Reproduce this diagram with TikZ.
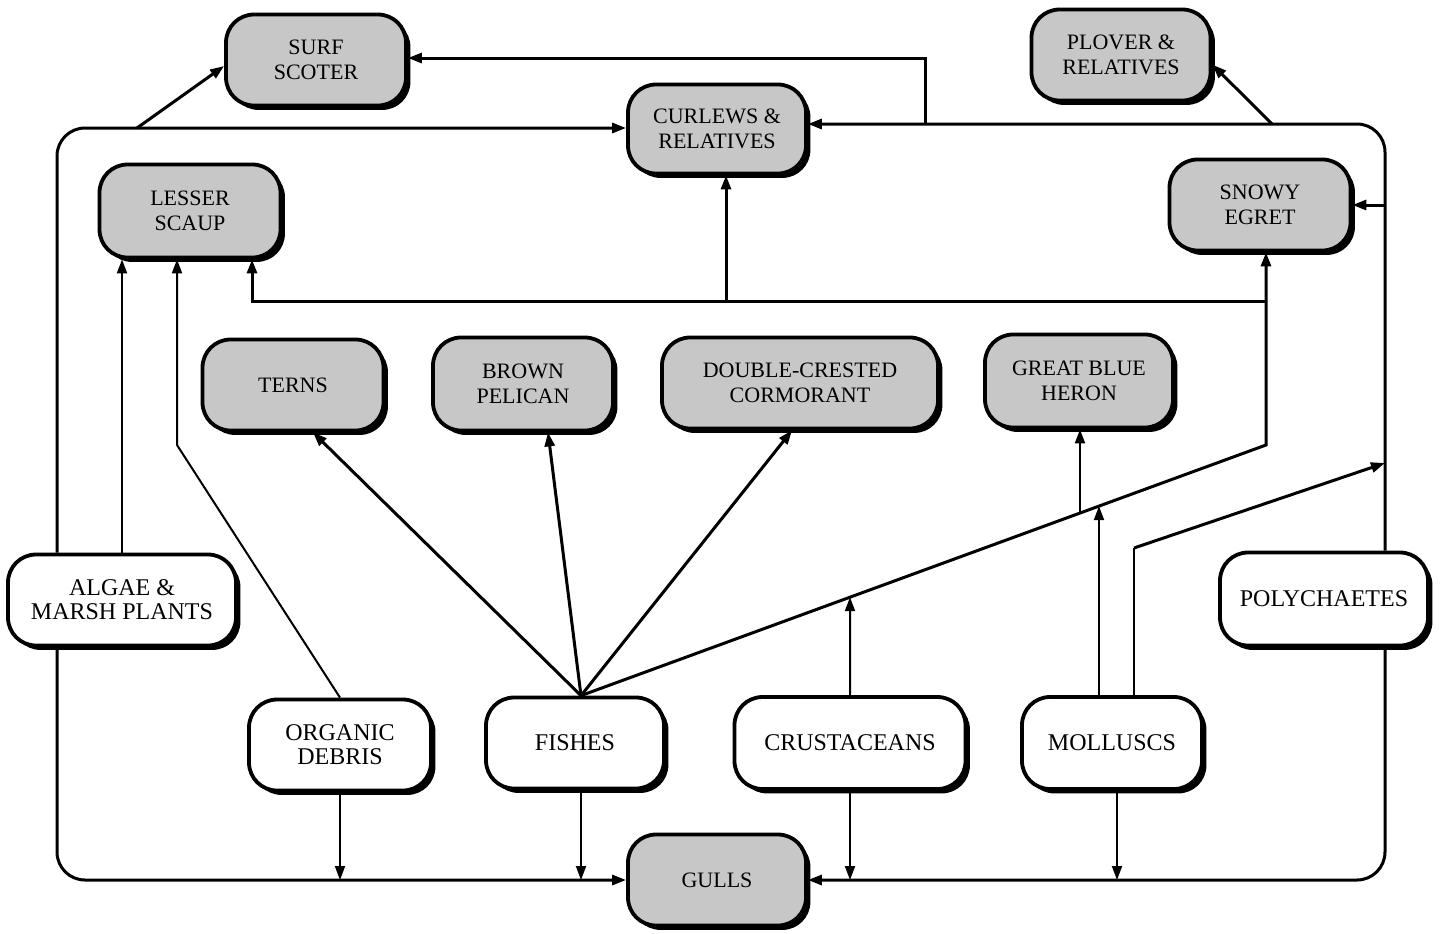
\documentclass[tikz,border=0pt]{standalone}
\usepackage{fontspec}
\setmainfont{Liberation Serif}
\usetikzlibrary{arrows.meta,shadows,calc}
\begin{document}
\begin{tikzpicture}[x=0.5pt,y=-0.5pt,
  box/.style={draw, line width=1.9pt, rounded corners=14pt, align=center, fill=white, inner sep=0pt,
    drop shadow={shadow xshift=2.2pt, shadow yshift=-2.2pt, fill=black, opacity=1},
    font=\fontsize{12}{12}\selectfont},
  bird/.style={box, fill=black!22, font=\fontsize{11}{12.5}\selectfont},
  main/.style={line width=1.5pt},
  thn/.style={line width=1.0pt},
  arr/.style={-{Triangle[length=7pt,width=5pt]}},
]
\useasboundingbox (0,0) rectangle (1442,933);

% birds
\node[bird, minimum width=90pt, minimum height=45.5pt] (surf) at (316,60) {SURF\\SCOTER};
\node[bird, minimum width=89pt, minimum height=44.5pt] (curlews) at (717,129) {CURLEWS \&\\RELATIVES};
\node[bird, minimum width=89.5pt, minimum height=45.5pt] (plover) at (1121,55) {PLOVER \&\\RELATIVES};
\node[bird, minimum width=90.5pt, minimum height=46.5pt] (scaup) at (190,211) {LESSER\\SCAUP};
\node[bird, minimum width=90.5pt, minimum height=45.5pt] (egret) at (1260,205) {SNOWY\\EGRET};
\node[bird, minimum width=90.5pt, minimum height=45.5pt] (terns) at (293,385) {TERNS};
\node[bird, minimum width=90pt, minimum height=46.5pt] (pelican) at (523,384) {BROWN\\PELICAN};
\node[bird, minimum width=138pt, minimum height=45.5pt] (cormorant) at (800,383) {DOUBLE-CRESTED\\CORMORANT};
\node[bird, minimum width=94pt, minimum height=46.5pt] (heron) at (1079,381) {GREAT BLUE\\HERON};
\node[bird, minimum width=89pt, minimum height=45.5pt] (gulls) at (717,880) {GULLS};

% food sources
\node[box, minimum width=114pt, minimum height=45.5pt] (algae) at (122,600) {ALGAE \&\\MARSH PLANTS};
\node[box, minimum width=104pt, minimum height=46.5pt] (poly) at (1324,599) {POLYCHAETES};
\node[box, minimum width=91pt, minimum height=45.5pt] (organic) at (340,745) {ORGANIC\\DEBRIS};
\node[box, minimum width=89pt, minimum height=45.5pt] (fishes) at (575,743) {FISHES};
\node[box, minimum width=115.5pt, minimum height=46pt] (crust) at (850,743) {CRUSTACEANS};
\node[box, minimum width=90pt, minimum height=46pt] (mollusc) at (1112,743) {MOLLUSCS};

% coordinates
\coordinate (xL) at (57,0);
\coordinate (xR) at (1385,0);
\coordinate (sb) at (137,128);
\coordinate (tr) at (1385,124);
\coordinate (js) at (925,124);
\coordinate (sk) at (925,58);
\coordinate (jp) at (1272,124);
\coordinate (fo) at ($(fishes.north)+(6,0)$);
\coordinate (fb) at ($(fishes.south)+(6,0)$);
\coordinate (jE) at (1266,445);
\coordinate (hR) at (1266,301);
\coordinate (hL) at (252,301);
\coordinate (hC) at (726,301);
\coordinate (ok) at (177,445);
\coordinate (jc) at ($(fo)!{269/685}!(jE)$);
\coordinate (jh) at ($(fo)!{499/685}!(jE)$);
\coordinate (jm) at ($(fo)!{518/685}!(jE)$);
\coordinate (mk) at (1134,548);
\coordinate (mp) at (1385,463);
\coordinate (mb) at ($(mollusc.south)+(5,0)$);

% left loop
\draw[main,arr,rounded corners=14pt] (algae.north -| xL) -- (xL |- sb) -- (curlews.west |- sb);
\draw[main,arr] (sb) -- ($(surf.west)+(0,6)$);
\draw[main,arr,rounded corners=14pt] (algae.south -| xL) -- (xL |- gulls.west) -- (gulls.west);

% right loop
\draw[main,arr,rounded corners=14pt] (poly.north -| xR) -- (tr) -- (curlews.east |- tr);
\draw[main,arr] (js) -- (sk) -- (surf.east |- sk);
\draw[main,arr] (jp) -- (plover.-6);
\draw[main,arr] (egret.east -| xR) -- (egret.east);
\draw[main,arr,rounded corners=14pt] (poly.south -| xR) -- (xR |- gulls.east) -- (gulls.east);

% algae and organic debris to scaup
\draw[thn,arr] (algae.north) -- (algae.north |- scaup.south);
\draw[thn,arr] (organic.north) -- (ok) -- (ok |- scaup.south);

% fishes fan
\draw[main,arr] (fo) -- ($(terns.south)+(20,0)$);
\draw[main,arr] (fo) -- ($(pelican.south)+(25,0)$);
\draw[main,arr] (fo) -- ($(cormorant.south)+(-8,0)$);
\draw[main,arr] (fo) -- (jE) -- (jE |- egret.south);
\draw[main,arr] (hR) -- (hL) -- (hL |- scaup.south);
\draw[main,arr] (hC) -- (hC |- curlews.south);

% crustaceans, molluscs into the fan line
\draw[thn,arr] (crust.north) -- (jc);
\draw[thn,arr] (jh) -- (jh |- heron.south);
\draw[thn,arr] (jm |- mollusc.north) -- (jm);
\draw[thn] (mk |- mollusc.north) -- (mk);
\draw[main,arr] (mk) -- (mp);

% down to gulls line
\draw[thn,arr] (organic.south) -- (organic.south |- gulls.west);
\draw[thn,arr] (fb) -- (fb |- gulls.west);
\draw[thn,arr] (crust.south) -- (crust.south |- gulls.east);
\draw[thn,arr] (mb) -- (mb |- gulls.east);
\end{tikzpicture}
\end{document}
